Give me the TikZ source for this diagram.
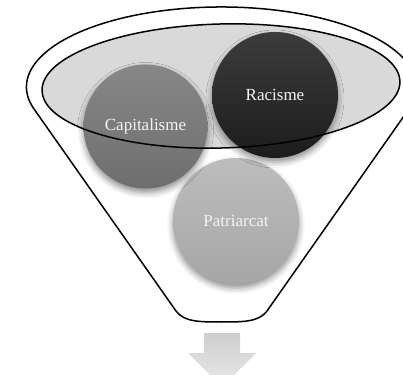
\documentclass[tikz,border=0pt]{standalone}
\usepackage{fontspec}
\setmainfont{Liberation Serif}
\usetikzlibrary{shadows.blur}
\definecolor{rimfill}{HTML}{D9D9D9}
\definecolor{txt}{HTML}{F4F4F4}
\definecolor{patTop}{HTML}{BDBDBD}
\definecolor{patBot}{HTML}{A6A6A6}
\definecolor{capTop}{HTML}{878787}
\definecolor{capBot}{HTML}{6E6E6E}
\definecolor{racTop}{HTML}{3C3C3C}
\definecolor{racBot}{HTML}{1C1C1C}
\definecolor{arrTop}{HTML}{CFCFCF}
\definecolor{arrBot}{HTML}{E8E8E8}
\tikzset{
  ball/.style={circle, minimum size=#1, inner sep=0pt, text=txt,
    font=\fontsize{17}{20}\selectfont,
    blur shadow={shadow xshift=0pt, shadow yshift=-4pt, shadow blur radius=6pt, shadow opacity=45}},
  funnelline/.style={draw=black, line width=1.5pt},
}
\begin{document}
\begin{tikzpicture}[x=1pt,y=1pt]
\useasboundingbox (0,0) rectangle (403,374);
\clip (0,0) rectangle (403,374);
% funnel outline
\draw[funnelline, line join=round]
  (176,63) -- (33.1,266.3)
  arc[start angle=195, end angle=-15, x radius=195pt, y radius=80pt]
  -- (267,63) .. controls (259,52) and (243,52) .. (221.5,52)
  .. controls (200,52) and (184,52) .. (176,63) -- cycle;
% inner ellipse fill
\fill[rimfill, rotate around={1.5:(221,288)}] (221,288) ellipse[x radius=179pt, y radius=62pt];
% circles
\node[ball=126pt, top color=patTop, bottom color=patBot] (pat) at (236,153) {Patriarcat};
\node[ball=124pt, top color=capTop, bottom color=capBot] (cap) at (145.5,247.5) {Capitalisme};
\node[ball=126pt, top color=racTop, bottom color=racBot] (rac) at (275,279) {Racisme};
% inner ellipse outline
\draw[funnelline, rotate around={1.5:(221,288)}] (221,288) ellipse[x radius=179pt, y radius=62pt];
% down arrow
\path[top color=arrTop, bottom color=arrBot]
  (204,41) -- (240,41) -- (240,21) -- (256,21) -- (222,-13) -- (188,21) -- (204,21) -- cycle;
\end{tikzpicture}
\end{document}
